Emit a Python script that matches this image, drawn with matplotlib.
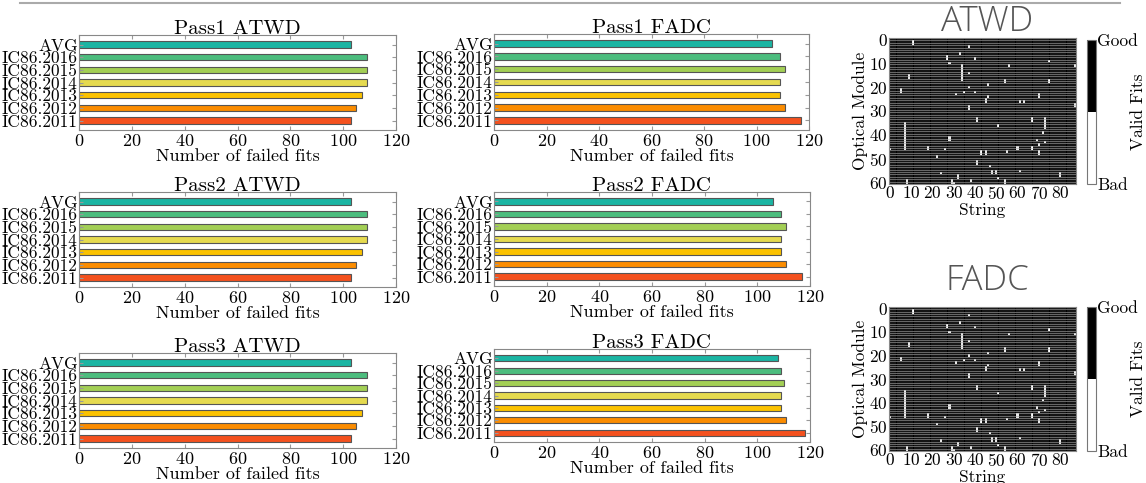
import numpy as np
import matplotlib.pyplot as plt
from matplotlib.colors import ListedColormap
from matplotlib.lines import Line2D

plt.rcParams['font.family'] = 'serif'
plt.rcParams['font.serif'] = ['cmr10']
plt.rcParams['axes.formatter.use_mathtext'] = True

# bar chart data (bottom to top)
runs = ['IC86.2011', 'IC86.2012', 'IC86.2013', 'IC86.2014', 'IC86.2015', 'IC86.2016', 'AVG']
bar_colors = ['#f4511e', '#fb8c00', '#fbc200', '#e5da4f', '#a3cf55', '#4cbd7e', '#1bb5a3']

pass1_atwd = [103, 105, 107, 109, 109, 109, 103]
pass1_fadc = [117, 111, 109, 109, 111, 109, 106]
pass2_atwd = [103, 105, 107, 109, 109, 109, 103]
pass2_fadc = [117, 111, 109, 109, 111, 109, 106]
pass3_atwd = [103, 105, 107, 109, 109, 109, 103]
pass3_fadc = [118, 111, 109, 109, 110, 109, 108]

# failed DOMs: (string, first OM, last OM)
bad_atwd = [
    (11, 1, 2), (37, 3, 3), (33, 6, 6), (27, 7, 8), (28, 10, 10), (40, 8, 8),
    (34, 11, 17), (37, 14, 14), (9, 15, 16), (37, 20, 20), (5, 21, 22), (35, 22, 22),
    (31, 23, 23), (40, 22, 22), (45, 25, 26), (37, 28, 29), (41, 33, 34), (7, 35, 46),
    (28, 41, 42), (0, 46, 46), (18, 45, 46), (26, 46, 46), (22, 49, 49), (43, 47, 48),
    (45, 47, 48), (41, 51, 52), (24, 56, 56), (32, 57, 58), (29, 59, 60), (30, 60, 60),
    (38, 59, 59), (8, 59, 60),
    (75, 9, 9), (56, 11, 11), (87, 11, 11), (54, 17, 18), (75, 17, 18), (46, 19, 19),
    (70, 23, 24), (46, 24, 24), (61, 26, 26), (63, 26, 26), (87, 27, 28), (51, 36, 36),
    (67, 33, 34), (73, 33, 37), (72, 39, 39), (69, 42, 42), (70, 44, 44), (73, 43, 43),
    (60, 45, 46), (67, 45, 46), (70, 47, 48), (55, 47, 47), (47, 53, 53), (48, 55, 56),
    (50, 55, 56), (61, 55, 55), (80, 56, 57), (51, 58, 58), (54, 59, 60),
]
bad_fadc = list(bad_atwd)

n_strings = 88
n_oms = 61

W, H = 1146, 483
fig = plt.figure(figsize=(W / 100, H / 100), dpi=100)


def px_axes(l, t, r, b):
    return fig.add_axes([l / W, 1 - b / H, (r - l) / W, (b - t) / H])


def bar_panel(rect, values, title):
    ax = px_axes(*rect)
    y = np.arange(len(runs))
    ax.barh(y, values, height=0.5, color=bar_colors, edgecolor='#555555', linewidth=0.8)
    ax.set_xlim(0, 120)
    ax.set_ylim(-0.75, 6.75)
    ax.set_xticks(range(0, 121, 20))
    ax.set_yticks(y)
    ax.set_yticklabels(runs, fontsize=12.5)
    ax.tick_params(axis='x', labelsize=13, pad=2)
    ax.tick_params(direction='in', top=True, right=True, length=3, color='#999999')
    ax.tick_params(axis='y', pad=1)
    for s in ax.spines.values():
        s.set_color('#888888')
    ax.set_title(title, fontsize=15, pad=1)
    ax.set_xlabel('Number of failed fits', fontsize=13, labelpad=0)
    return ax


bar_panel((79, 35, 396, 130), pass1_atwd, 'Pass1 ATWD')
bar_panel((494, 34, 809, 130), pass1_fadc, 'Pass1 FADC')
bar_panel((79, 192, 396, 287), pass2_atwd, 'Pass2 ATWD')
bar_panel((494, 192, 810, 286), pass2_fadc, 'Pass2 FADC')
bar_panel((79, 353, 396, 448), pass3_atwd, 'Pass3 ATWD')
bar_panel((494, 349, 810, 442), pass3_fadc, 'Pass3 FADC')

cmap = ListedColormap(['white', 'black'])


def heat_panel(rect, cbrect, bad, title, title_y):
    grid = np.ones((n_oms, n_strings))
    for s, a, b in bad:
        grid[a:b + 1, s] = 0
    ax = px_axes(*rect)
    m = ax.imshow(grid, cmap=cmap, vmin=0, vmax=1, aspect='auto',
                  interpolation='nearest', extent=(-0.5, n_strings - 0.5, n_oms - 0.5, -0.5))
    # cell borders
    ax.hlines(np.arange(n_oms) + 0.5, -0.5, n_strings - 0.5, color='#b5b5b5', linewidth=0.4)
    ax.vlines(np.arange(n_strings) + 0.5, -0.5, n_oms - 0.5, color='#7a7a7a', linewidth=0.25)
    ax.set_xlim(-0.5, n_strings - 0.5)
    ax.set_ylim(n_oms - 0.5, -0.5)
    ax.set_xticks(range(0, 81, 10))
    ax.set_yticks(range(0, 61, 10))
    ax.tick_params(labelsize=12.5, length=0, pad=1)
    for s in ax.spines.values():
        s.set_color('#888888')
    ax.set_xlabel('String', fontsize=12.5, labelpad=0)
    ax.set_ylabel('Optical Module', fontsize=12.5, labelpad=1)
    fig.text(987 / W, 1 - title_y / H, title, ha='center', va='center',
             fontsize=25, color='#555555', family='Open Sans', weight='light')

    cax = px_axes(*cbrect)
    cb = fig.colorbar(m, cax=cax, ticks=[0, 1])
    cb.set_ticklabels(['Bad', 'Good'])
    cb.outline.set_edgecolor('#777777')
    cb.outline.set_linewidth(0.8)
    cax.tick_params(labelsize=12.5, length=0, pad=1)
    fig.text(1138 / W, 1 - (cbrect[1] + cbrect[3]) / 2 / H, 'Valid Fits', rotation=90,
             ha='center', va='center', fontsize=12.5)
    return ax


heat_panel((889, 38, 1076, 184), (1087, 40, 1096, 184), bad_atwd, 'ATWD', 22)
heat_panel((889, 307, 1076, 451), (1087, 307, 1096, 451), bad_fadc, 'FADC', 281)

fig.add_artist(Line2D([20 / W, 1120 / W], [1 - 3 / H, 1 - 3 / H], color='#aaaaaa', linewidth=1.5))

fig.savefig('out.png', dpi=100)
